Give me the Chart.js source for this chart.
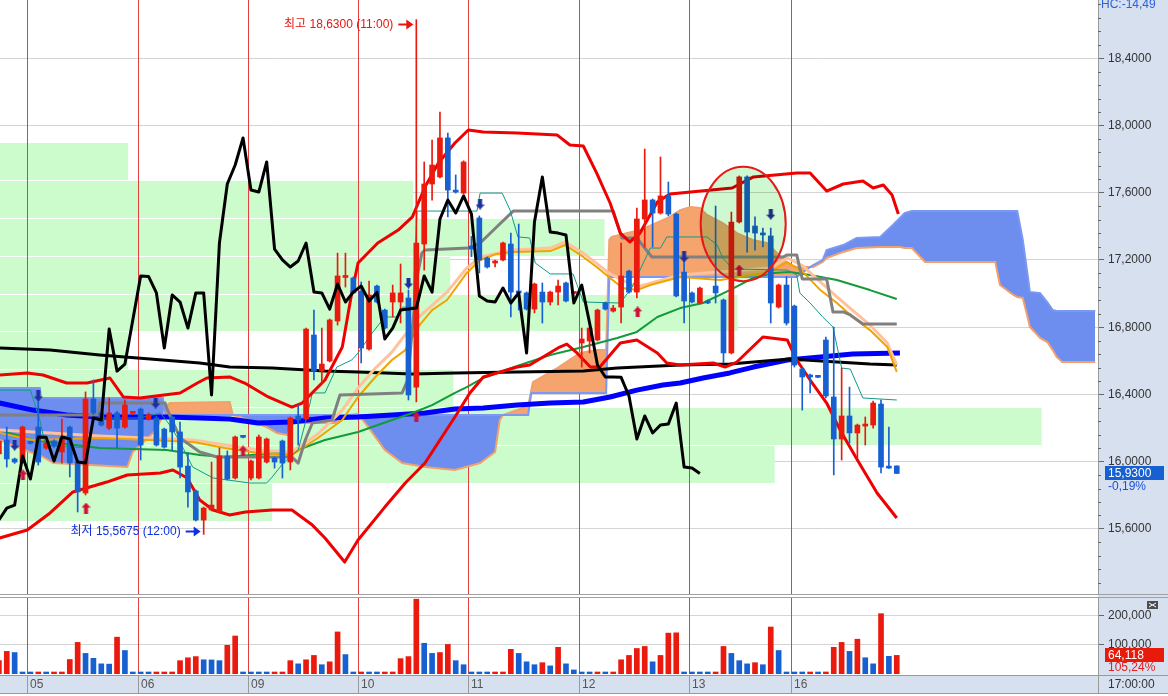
<!DOCTYPE html>
<html>
<head>
<meta charset="utf-8">
<script src="https://cdn.jsdelivr.net/npm/chart.js@4.4.1/dist/chart.umd.min.js"></script>
<style>
    html, body { margin: 0; padding: 0; background: #fff; overflow: hidden; }
    #wrap { position: relative; width: 1168px; height: 696px; }
    #price { position: absolute; left: 0; top: 0; }
    #vol { position: absolute; left: 0; top: 596px; }
</style>
</head>
<body>
<div id="wrap">
    <canvas id="price" width="1168" height="596"></canvas>
    <canvas id="vol" width="1168" height="100"></canvas>
</div>
<script>
// ── Chart data (x = bar index) ───────────────────────────────
const dayStart  = [4, 18, 32, 46, 60, 74, 88, 101];
const dayLabels = ['05', '06', '09', '10', '11', '12', '13', '16'];

const open = [
    16.046, 16.129, 16.016, 15.998, 16.113, 16.206, 16.081, 16.123, 16.058, 16.206,
    15.998, 15.814, 16.373, 16.290, 16.200, 16.290, 16.206, 16.288, 16.313, 16.254,
    16.260, 16.194, 16.266, 16.177, 15.974, 15.826, 15.653, 15.713, 15.701, 16.034,
    15.903, 16.149, 15.903, 15.903, 15.998, 16.022, 16.123, 15.998, 16.272, 16.254,
    16.754, 16.539, 16.599, 16.837, 17.096, 17.093, 17.015, 16.670, 17.045, 16.902,
    16.950, 16.950, 16.974, 16.444, 17.295, 17.652, 17.694, 17.926, 17.608, 17.598,
    17.283, 17.450, 17.212, 17.182, 17.200, 17.295, 17.015, 17.004, 16.908, 17.009,
    16.950, 17.009, 17.063, 17.001, 16.706, 16.718, 16.724, 16.944, 16.896, 16.920,
    17.134, 17.009, 17.444, 17.557, 17.479, 17.581, 17.473, 17.128, 17.004, 16.944,
    16.956, 17.045, 16.962, 16.647, 17.426, 17.694, 17.402, 17.360, 17.343, 16.920,
    17.051, 16.926, 16.551, 16.516, 16.506, 16.724, 16.385, 16.135, 16.272, 16.171,
    16.212, 16.218, 16.343, 15.966, 15.975
];
const high = [
    16.141, 16.206, 16.022, 16.212, 16.118, 16.367, 16.120, 16.130, 16.254, 16.212,
    16.004, 16.415, 16.486, 16.300, 16.379, 16.300, 16.367, 16.300, 16.320, 16.290,
    16.270, 16.200, 16.272, 16.236, 16.052, 15.832, 15.730, 15.998, 16.081, 16.064,
    16.153, 16.153, 16.010, 16.159, 16.141, 16.028, 16.129, 16.266, 16.337, 16.795,
    16.902, 16.795, 16.849, 17.241, 17.241, 17.099, 17.069, 17.075, 17.051, 16.908,
    17.051, 17.176, 17.021, 18.630, 17.783, 17.914, 18.080, 17.955, 17.706, 17.790,
    17.340, 17.462, 17.218, 17.200, 17.307, 17.360, 17.414, 17.010, 17.063, 17.063,
    17.015, 17.081, 17.069, 17.010, 16.795, 16.801, 16.908, 16.950, 16.930, 17.301,
    17.140, 17.509, 17.860, 17.563, 17.813, 17.664, 17.479, 17.241, 17.010, 17.039,
    16.962, 17.521, 16.968, 17.485, 17.700, 17.700, 17.456, 17.390, 17.390, 17.057,
    17.100, 16.932, 16.557, 16.522, 16.510, 16.742, 16.801, 16.557, 16.444, 16.224,
    16.266, 16.361, 16.367, 16.206, 15.975
];
const low = [
    16.022, 15.968, 15.990, 15.992, 16.105, 15.980, 16.075, 16.085, 15.992, 15.909,
    15.701, 15.802, 16.280, 16.212, 16.190, 16.081, 16.200, 16.280, 16.010, 16.248,
    16.093, 16.081, 16.069, 15.903, 15.730, 15.647, 15.5675, 15.707, 15.695, 15.891,
    15.897, 16.141, 15.891, 15.897, 15.992, 15.962, 15.903, 15.951, 16.099, 16.248,
    16.486, 16.468, 16.593, 16.813, 17.039, 16.998, 16.587, 16.664, 16.944, 16.789,
    16.861, 16.825, 16.367, 16.355, 17.140, 17.556, 17.688, 17.456, 17.598, 17.592,
    17.220, 17.123, 17.152, 17.158, 17.194, 16.861, 16.902, 16.902, 16.885, 16.825,
    16.932, 16.932, 16.950, 16.998, 16.563, 16.647, 16.718, 16.902, 16.890, 16.825,
    17.003, 16.974, 17.277, 17.277, 17.473, 17.462, 16.980, 16.825, 16.944, 16.938,
    16.940, 16.944, 16.587, 16.641, 17.420, 17.247, 17.259, 17.277, 16.825, 16.914,
    16.813, 16.563, 16.307, 16.409, 16.500, 16.379, 15.921, 16.010, 16.111, 16.022,
    16.099, 16.200, 15.933, 15.960, 15.930
];
const close = [
    16.123, 16.016, 15.998, 16.206, 16.109, 15.998, 16.111, 16.093, 16.141, 15.992,
    15.820, 16.373, 16.290, 16.218, 16.290, 16.200, 16.337, 16.292, 16.099, 16.278,
    16.099, 16.087, 16.177, 15.968, 15.820, 15.653, 15.724, 15.742, 16.034, 15.897,
    16.147, 16.145, 16.004, 16.147, 16.135, 15.998, 15.992, 16.260, 16.248, 16.789,
    16.539, 16.581, 16.843, 17.105, 17.102, 17.004, 16.676, 16.992, 16.950, 16.795,
    17.004, 17.004, 16.397, 17.301, 17.652, 17.765, 17.926, 17.616, 17.604, 17.783,
    17.265, 17.200, 17.158, 17.194, 17.301, 17.009, 17.004, 16.908, 17.057, 16.950,
    17.009, 17.045, 16.956, 17.007, 16.730, 16.795, 16.902, 16.908, 16.914, 17.105,
    17.009, 17.444, 17.557, 17.479, 17.581, 17.473, 16.986, 16.956, 16.950, 17.033,
    16.944, 17.004, 16.647, 17.426, 17.694, 17.366, 17.360, 17.349, 16.944, 17.051,
    16.825, 16.575, 16.504, 16.504, 16.502, 16.391, 16.135, 16.272, 16.171, 16.218,
    16.224, 16.349, 15.968, 15.962, 15.930
];
const volume = [
    46000, 78000, 74000, 3500,
    2000, 2400, 2000, 2200, 3500, 50000, 109000, 71000, 54000, 35000, 34000, 127000, 81000, 3500,
    2000, 1800, 2000, 2200, 2400, 46000, 56000, 60000, 49000, 48500, 46000, 99000, 131000, 3500,
    2000, 1800, 1600, 2000, 3500, 46000, 35000, 49000, 64000, 32000, 42000, 145000, 67000, 3500,
    3600, 3400, 2000, 2200, 7000, 53000, 60000, 258000, 106000, 71000, 74000, 102000, 46000, 32000,
    2000, 1800, 1600, 2000, 3500, 85000, 71000, 42000, 32000, 39000, 28000, 92000, 35000, 14000,
    2000, 1800, 2000, 1800, 3500, 49000, 64000, 88000, 95000, 42000, 64000, 141000, 142000, 3500,
    2000, 1800, 1600, 3500, 95000, 71000, 46000, 35000, 39000, 32000, 162000, 81000, 2000,
    1800, 1600, 2000, 1800, 7000, 92000, 109000, 78000, 120000, 56000, 35000, 208000, 60926, 64118
];

// indicator lines: [bar index, price]
const bbUpper = [[0.1,16.516],[3.6,16.528],[5.6,16.516],[8.6,16.468],[11.2,16.468],[14.1,16.498],[15.8,16.385],[17.9,16.379],[23.0,16.409],[25.2,16.468],[26.4,16.498],[29.3,16.504],[31.2,16.468],[34.2,16.385],[37.2,16.325],[38.5,16.349],[41.4,16.486],[43.6,16.682],[44.8,17.003],[45.6,17.182],[48.1,17.301],[50.7,17.378],[52.5,17.456],[54.1,17.634],[55.8,17.777],[57.9,17.896],[59.6,17.973],[61.5,17.961],[65.8,17.955],[70.9,17.943],[72.5,17.884],[74.2,17.878],[75.9,17.717],[77.6,17.539],[78.9,17.360],[80.1,17.307],[81.4,17.360],[83.6,17.545],[85.2,17.593],[93.1,17.628],[95.8,17.694],[101.3,17.717],[103.0,17.717],[105.1,17.610],[107.2,17.652],[109.7,17.670],[111.0,17.628],[112.3,17.646],[113.4,17.587],[114.2,17.473]];
const bbLower = [[0.1,15.546],[3.6,15.594],[6.5,15.695],[9.4,15.820],[13.7,15.879],[16.3,15.921],[20.5,15.933],[22.1,15.951],[23.9,15.903],[25.5,15.772],[27.2,15.713],[29.3,15.683],[31.3,15.701],[34.7,15.713],[37.2,15.713],[39.8,15.623],[41.4,15.546],[43.9,15.403],[45.6,15.534],[49.0,15.730],[51.6,15.873],[54.1,15.992],[57.9,16.266],[59.8,16.409],[61.5,16.504],[65.8,16.563],[67.4,16.575],[71.2,16.682],[72.1,16.700],[73.4,16.647],[75.1,16.563],[76.3,16.563],[77.6,16.635],[78.9,16.706],[81.0,16.724],[83.6,16.647],[84.8,16.587],[86.5,16.575],[90.7,16.587],[92.2,16.563],[93.7,16.593],[97.0,16.742],[100.1,16.724],[101.3,16.605],[103.0,16.486],[105.1,16.349],[106.8,16.189],[109.0,16.010],[111.5,15.814],[114.0,15.665]];
const blackMA = [[0.1,16.676],[6.5,16.664],[12.8,16.635],[19.2,16.611],[25.5,16.587],[29.3,16.563],[34.7,16.557],[41.4,16.539],[45.6,16.534],[52.5,16.522],[57.9,16.528],[65.8,16.534],[74.2,16.539],[78.5,16.557],[86.5,16.575],[92.8,16.581],[100.4,16.611],[106.4,16.593],[110.6,16.581],[114.0,16.575]];
const blueMA = [[0.1,16.349],[4.3,16.307],[8.6,16.278],[12.8,16.266],[21.3,16.266],[25.5,16.260],[29.3,16.254],[32.9,16.230],[37.2,16.236],[41.4,16.260],[45.6,16.266],[49.9,16.278],[54.1,16.290],[57.9,16.313],[61.5,16.319],[65.8,16.337],[70.0,16.349],[74.2,16.355],[77.6,16.385],[81.0,16.426],[84.3,16.456],[86.5,16.468],[89.4,16.498],[92.8,16.528],[95.8,16.563],[100.1,16.605],[104.3,16.623],[108.4,16.641],[114.4,16.647]];
const greenMA = [[0.1,16.189],[4.3,16.129],[12.8,16.081],[21.3,16.069],[25.5,16.040],[28.7,16.028],[37.2,16.058],[41.4,16.129],[45.6,16.177],[49.9,16.248],[52.5,16.290],[55.0,16.337],[57.9,16.409],[59.4,16.444],[61.5,16.498],[65.8,16.569],[70.0,16.635],[74.2,16.682],[78.5,16.736],[81.0,16.772],[83.6,16.861],[86.5,16.914],[89.4,16.944],[92.8,17.021],[95.8,17.093],[98.3,17.123],[100.4,17.128],[103.0,17.111],[106.4,17.081],[110.6,17.021],[114.0,16.968]];
const orangeMA = [[0.1,16.171],[4.3,16.129],[12.8,16.141],[19.2,16.129],[24.7,16.117],[28.7,16.081],[32.9,16.052],[37.2,16.040],[40.5,16.141],[43.6,16.248],[45.6,16.385],[47.8,16.504],[49.9,16.605],[51.6,16.664],[53.2,16.801],[55.0,16.902],[56.9,16.962],[59.4,17.123],[61.1,17.200],[63.2,17.236],[65.3,17.248],[70.0,17.253],[71.9,17.289],[74.2,17.218],[75.9,17.158],[77.6,17.093],[79.2,17.033],[81.0,17.021],[82.7,17.051],[86.5,17.099],[91.6,17.081],[97.9,17.128],[100.1,17.188],[102.1,17.128],[104.3,17.021],[106.4,16.944],[108.4,16.861],[110.6,16.783],[112.8,16.682],[114.0,16.534]];
const peachMA = [[0.1,16.189],[12.8,16.153],[24.7,16.129],[32.9,16.069],[37.2,16.058],[40.5,16.165],[43.6,16.307],[45.6,16.438],[47.8,16.557],[49.9,16.652],[53.2,16.855],[56.9,17.009],[59.4,17.152],[61.1,17.218],[65.3,17.259],[70.0,17.271],[71.9,17.307],[74.2,17.241],[77.6,17.117],[81.0,17.039],[86.5,17.111],[97.9,17.152],[100.1,17.212],[102.1,17.164],[106.4,16.980],[110.6,16.813],[112.8,16.706],[114.0,16.575]];
const kijun = [[0.1,16.278],[12.6,16.278],[12.8,16.349],[21.1,16.349],[21.3,16.319],[23.0,16.141],[25.5,16.058],[27.7,16.028],[37.2,16.028],[38.0,15.992],[38.9,16.129],[39.8,16.230],[42.3,16.248],[43.3,16.397],[51.2,16.409],[51.9,16.486],[53.1,17.099],[53.7,17.241],[54.1,17.259],[59.6,17.271],[61.1,17.301],[63.2,17.396],[65.3,17.491],[78.0,17.491],[79.1,17.331],[81.0,17.331],[82.9,17.218],[99.6,17.218],[100.1,17.230],[101.3,17.230],[102.0,17.087],[105.1,17.087],[105.9,16.891],[107.2,16.891],[108.1,16.873],[109.7,16.819],[114.0,16.819]];
const tenkan = [[0.1,16.426],[4.0,16.426],[5.2,16.248],[5.9,16.099],[11.3,16.081],[12.0,16.260],[17.9,16.260],[20.5,16.290],[21.7,16.218],[23.0,16.117],[24.6,15.968],[27.2,15.903],[31.9,15.873],[34.0,15.873],[34.7,15.909],[36.1,15.992],[38.0,16.069],[39.1,16.266],[39.8,16.409],[41.4,16.409],[42.9,16.563],[44.8,16.605],[45.6,16.647],[47.4,16.766],[49.0,16.861],[50.7,16.861],[51.3,16.920],[52.6,16.920],[52.8,17.182],[53.1,17.491],[60.7,17.491],[61.1,17.598],[63.9,17.598],[64.9,17.497],[65.9,17.337],[67.4,17.331],[68.1,17.182],[70.0,17.117],[72.9,17.117],[73.8,17.003],[74.2,16.950],[78.9,16.944],[80.4,17.039],[82.7,17.271],[84.0,17.271],[84.8,17.337],[89.9,17.337],[91.2,17.289],[91.9,17.212],[93.2,17.146],[100.1,17.140],[101.3,17.111],[101.7,17.003],[103.0,16.944],[104.6,16.861],[105.9,16.801],[107.0,16.557],[108.1,16.551],[109.7,16.379],[114.0,16.367]];

// ichimoku cloud (leading spans), shared x positions
const cloudX = [0.1, 2.7, 5.2, 5.35, 6.9, 16.3, 17.0, 19.6, 20.8, 21.2, 21.7, 29.3, 29.7, 30.6, 34.0, 35.3, 36.6, 37.3, 42.7, 44.3, 45.6, 46.9, 49.0, 51.2, 54.1, 57.9, 61.1, 63.0, 63.6, 64.0, 67.2, 67.6, 67.8, 70.9, 73.8, 75.9, 77.1, 77.5, 77.8, 81.4, 85.2, 86.5, 87.8, 89.0, 89.9, 91.9, 93.7, 95.7, 97.5, 98.8, 100.4, 101.3, 102.1, 103.0, 103.4, 104.6, 105.1, 107.2, 108.9, 111.9, 113.5, 114.4, 115.0, 115.9, 117.6, 126.5, 127.1, 128.8, 129.3, 130.0, 130.7, 130.9, 132.2, 133.1, 133.8, 134.3, 135.0, 139.2];
const spanA = [16.129, 16.081, 16.034, 16.034, 15.992, 15.968, 16.058, 16.171, 16.266, 16.331, 16.349, 16.355, 16.278, 16.266, 16.206, 16.171, 16.159, 16.230, 16.230, 16.278, 16.284, 16.206, 16.069, 15.992, 15.968, 15.951, 15.992, 16.058, 16.248, 16.278, 16.331, 16.426, 16.474, 16.557, 16.647, 16.664, 16.664, 17.319, 17.337, 17.378, 17.456, 17.497, 17.515, 17.509, 17.468, 17.420, 17.360, 17.319, 17.301, 17.241, 17.170, 17.158, 17.158, 17.158, 17.158, 17.188, 17.212, 17.248, 17.271, 17.277, 17.277, 17.277, 17.271, 17.271, 17.188, 17.188, 17.051, 16.992, 16.980, 16.974, 16.843, 16.801, 16.736, 16.712, 16.664, 16.623, 16.593, 16.593];
const spanB = [16.438, 16.438, 16.438, 16.379, 16.379, 16.379, 16.379, 16.379, 16.379,
    16.278, 16.278, 16.278, 16.278, 16.278, 16.278, 16.278, 16.278, 16.278, 16.278, 16.278,
    16.278, 16.278, 16.278, 16.278, 16.278, 16.278, 16.278, 16.278, 16.278, 16.278, 16.278,
    16.409, 16.409, 16.409, 16.409, 16.409, 16.409,
    17.099, 17.099, 17.099, 17.099, 17.099, 17.099, 17.099, 17.099, 17.099, 17.099, 17.099, 17.099, 17.099, 17.099, 17.099,
    17.128, 17.158, 17.170, 17.200, 17.259, 17.289, 17.331, 17.337, 17.408, 17.450, 17.479, 17.491, 17.491, 17.491, 17.491, 17.491, 17.491, 17.319, 17.081, 17.009, 17.003, 16.950, 16.902, 16.896, 16.896, 16.896];

// price-by-volume bands: edges (price) and right end (bar index)
const bandEdges = [15.647, 15.873, 16.098, 16.324, 16.549, 16.775, 17.0, 17.226, 17.451, 17.677, 17.902];
const bandEnd   = [34.7, 98.5, 132.4, 57.7, 16.4, 93.8, 57.3, 76.9, 52.6, 16.4];

// signals
const buyIdx    = [3.06, 11.06, 31.0, 53.0, 81.1, 94.0];
const buyPrice  = [15.921, 15.724, 16.064, 16.266, 16.891, 17.140];
const sellIdx   = [2.0, 5.0, 19.9, 52.0, 61.1, 87.0, 98.0];
const sellPrice = [16.099, 16.391, 16.349, 17.063, 17.533, 17.218, 17.473];

// high / low callouts
const extremeIdx   = [53, 26];
const extremePrice = [18.63, 15.5675];
const extremeText  = ['최고 18,6300 (11:00)', '최저 15,5675 (12:00)'];

// highlighted zone (ellipse): centre and half-sizes in data units
const zoneIdx = 94.5, zonePrice = 17.414, zoneHalfIdx = 5.4, zoneHalfPrice = 0.34;

const priceTicks = [15.6, 16.0, 16.4, 16.8, 17.2, 17.6, 18.0, 18.4];
const volTicks   = [100000, 200000];
const hcValue = -14.49;
const changePct = -0.19;
const volChangePct = 105.24;
const lastTime = '17:00:00';

// ── Theme / layout ───────────────────────────────────────────
const RED = '#ea1a0e';
const BLUE = '#1660d2';
const AXIS_BG = '#d6e0ef';
const GRID = '#d4d4d4';
const DAY_RED = '#e04040';
const FONT = '"Liberation Sans", "Noto Sans CJK KR", sans-serif';
const AXIS_W = 70;
const X_MIN = 0.14, X_MAX = 139.55;
const P_MIN = 15.213, P_MAX = 18.7466;
const V_MAX = 265500;

const pts = arr => arr.map(([x, y]) => ({ x, y }));
const fmt4 = v => v.toFixed(4).replace('.', ',');
const fmtComma = v => v.toFixed(2).replace('.', ',');
const candleColor = i => (close[i] >= open[i] ? RED : BLUE);
const volColor = i => (i > 0 && volume[i] <= volume[i - 1] ? BLUE : RED);

function makeArrow(color, up) {
    const c = document.createElement('canvas');
    c.width = 9; c.height = 11;
    const g = c.getContext('2d');
    g.fillStyle = color;
    g.beginPath();
    if (up) {
        g.moveTo(4.5, 0); g.lineTo(9, 5); g.lineTo(6.5, 5); g.lineTo(6.5, 11);
        g.lineTo(2.5, 11); g.lineTo(2.5, 5); g.lineTo(0, 5);
    } else {
        g.moveTo(4.5, 11); g.lineTo(9, 6); g.lineTo(6.5, 6); g.lineTo(6.5, 0);
        g.lineTo(2.5, 0); g.lineTo(2.5, 6); g.lineTo(0, 6);
    }
    g.closePath();
    g.fill();
    return c;
}

const lineDs = (label, data, color, width, order) => ({
    type: 'line', label, data: pts(data),
    borderColor: color, borderWidth: width,
    pointRadius: 0, tension: 0, fill: false, order,
    borderJoinStyle: 'round'
});

function drawDayLines(ctx, x, top, bottom, color) {
    ctx.strokeStyle = color;
    ctx.lineWidth = 1;
    dayStart.forEach(d => {
        const xp = Math.round(x.getPixelForValue(d - 0.38)) + 0.5;
        ctx.beginPath(); ctx.moveTo(xp, top); ctx.lineTo(xp, bottom); ctx.stroke();
    });
}

const axisFit = s => { s.width = AXIS_W; s.paddingTop = 0; s.paddingBottom = 0; };

// ── Price panel decorations ──────────────────────────────────
const priceDecor = {
    id: 'priceDecor',
    beforeDraw(chart) {
        const { ctx, chartArea: a, width, height } = chart;
        ctx.save();
        ctx.fillStyle = '#fff';
        ctx.fillRect(0, 0, width, height);
        ctx.fillStyle = AXIS_BG;
        ctx.fillRect(a.right, 0, width - a.right, height);
        ctx.restore();
    },
    beforeDatasetsDraw(chart) {
        const { ctx, chartArea: a, scales: { x, y } } = chart;
        ctx.save();
        ctx.beginPath(); ctx.rect(a.left, a.top, a.right - a.left, a.bottom - a.top); ctx.clip();
        ctx.fillStyle = '#ccfccc';
        bandEnd.forEach((end, k) => {
            const top = Math.round(y.getPixelForValue(bandEdges[k + 1])) + 1;
            const bot = Math.round(y.getPixelForValue(bandEdges[k]));
            ctx.fillRect(a.left, top, x.getPixelForValue(end) - a.left, bot - top);
        });
        drawDayLines(ctx, x, a.top, a.bottom, DAY_RED);
        ctx.restore();
    },
    afterDatasetsDraw(chart) {
        const { ctx, chartArea: a, scales: { x, y } } = chart;
        ctx.save();
        ctx.beginPath(); ctx.rect(a.left, a.top, a.right - a.left, a.bottom - a.top); ctx.clip();

        // highlighted zone
        const cx = x.getPixelForValue(zoneIdx), cy = y.getPixelForValue(zonePrice);
        const rx = x.getPixelForValue(zoneIdx + zoneHalfIdx) - cx;
        const ry = y.getPixelForValue(zonePrice - zoneHalfPrice) - cy;
        ctx.beginPath();
        ctx.ellipse(cx, cy, rx, ry, 0, 0, Math.PI * 2);
        ctx.globalCompositeOperation = 'multiply';
        ctx.fillStyle = '#d0f8d0';
        ctx.fill();
        ctx.globalCompositeOperation = 'source-over';
        ctx.strokeStyle = '#e81818';
        ctx.lineWidth = 2;
        ctx.stroke();

        // high / low callouts
        ctx.font = `12px ${FONT}`;
        ctx.textBaseline = 'middle';
        ctx.textAlign = 'right';
        extremeIdx.forEach((idx, k) => {
            const isHigh = k === 0;
            const color = isHigh ? '#e8160e' : '#1030e0';
            const tip = x.getPixelForValue(idx) - 3;
            const yp = Math.round(y.getPixelForValue(extremePrice[k]) + (isHigh ? 4 : -3.5)) + 0.5;
            ctx.fillStyle = color;
            ctx.strokeStyle = color;
            ctx.fillText(extremeText[k], tip - 20, yp);
            ctx.lineWidth = 2;
            ctx.beginPath(); ctx.moveTo(tip - 15, yp); ctx.lineTo(tip - 5, yp); ctx.stroke();
            ctx.beginPath(); ctx.moveTo(tip, yp); ctx.lineTo(tip - 7, yp - 5); ctx.lineTo(tip - 7, yp + 5);
            ctx.closePath(); ctx.fill();
        });
        ctx.restore();
    },
    afterDraw(chart) {
        const { ctx, chartArea: a, width, scales: { y } } = chart;
        ctx.save();
        // minor ticks
        ctx.strokeStyle = '#666';
        ctx.lineWidth = 1;
        for (let k = 0; k < 45; k++) {
            if (k % 5 === 0) continue;
            const v = 15.2 + k * 0.08;
            if (v > P_MAX) break;
            const yp = Math.round(y.getPixelForValue(v)) + 0.5;
            ctx.beginPath(); ctx.moveTo(a.right, yp); ctx.lineTo(a.right + 3, yp); ctx.stroke();
        }
        // panel bottom border
        ctx.strokeStyle = '#a0a0a0';
        ctx.beginPath(); ctx.moveTo(0, a.bottom + 0.5); ctx.lineTo(width, a.bottom + 0.5); ctx.stroke();

        ctx.font = `12px ${FONT}`;
        ctx.textBaseline = 'middle';
        ctx.textAlign = 'left';
        ctx.fillStyle = '#2a62d8';
        ctx.fillText('HC:' + fmtComma(hcValue), a.right + 3, 5);

        // last price box
        const last = close[close.length - 1];
        const yp = y.getPixelForValue(last);
        ctx.fillStyle = BLUE;
        ctx.fillRect(a.right + 7, Math.round(yp) - 7, 59, 14);
        ctx.fillStyle = '#fff';
        ctx.fillText(fmt4(last), a.right + 10, yp);
        ctx.fillStyle = '#1a50d8';
        ctx.fillText(fmtComma(changePct) + '%', a.right + 10, yp + 13);
        ctx.restore();
    }
};

// ── Volume panel decorations ─────────────────────────────────
const volDecor = {
    id: 'volDecor',
    beforeDraw(chart) {
        const { ctx, chartArea: a, width, height } = chart;
        ctx.save();
        ctx.fillStyle = '#fff';
        ctx.fillRect(0, 0, width, height);
        ctx.fillStyle = AXIS_BG;
        ctx.fillRect(a.right, 0, width - a.right, a.bottom + 1);
        ctx.restore();
    },
    beforeDatasetsDraw(chart) {
        const { ctx, chartArea: a, scales: { x } } = chart;
        ctx.save();
        drawDayLines(ctx, x, a.top, a.bottom, DAY_RED);
        ctx.restore();
    },
    afterDraw(chart) {
        const { ctx, chartArea: a, width, scales: { x, y } } = chart;
        ctx.save();
        ctx.lineWidth = 1;
        ctx.strokeStyle = '#a0a0a0';
        ctx.beginPath(); ctx.moveTo(0, a.top + 0.5); ctx.lineTo(width, a.top + 0.5); ctx.stroke();

        // time strip
        const sTop = a.bottom + 1, sBot = a.bottom + 19;
        ctx.fillStyle = AXIS_BG;
        ctx.fillRect(0, sTop, width, sBot - sTop);
        ctx.strokeStyle = '#9a9a9a';
        ctx.beginPath();
        ctx.moveTo(0, sTop + 0.5); ctx.lineTo(width, sTop + 0.5);
        ctx.moveTo(0, sBot + 0.5); ctx.lineTo(width, sBot + 0.5);
        ctx.moveTo(a.right + 0.5, sTop); ctx.lineTo(a.right + 0.5, sBot);
        ctx.stroke();
        drawDayLines(ctx, x, sTop, sBot, '#9a9a9a');

        ctx.font = `12px ${FONT}`;
        ctx.textBaseline = 'middle';
        ctx.textAlign = 'left';
        ctx.fillStyle = '#555';
        dayStart.forEach((d, k) => {
            const xp = Math.round(x.getPixelForValue(d - 0.38));
            ctx.fillText(dayLabels[k], xp + 3, (sTop + sBot) / 2 + 1);
        });
        ctx.fillStyle = '#333';
        ctx.fillText(lastTime, a.right + 10, (sTop + sBot) / 2 + 1);

        // last volume box
        const lastVol = volume[volume.length - 1];
        const yp = y.getPixelForValue(lastVol);
        ctx.fillStyle = '#e81a0a';
        ctx.fillRect(a.right + 7, Math.round(yp) - 7, 59, 14);
        ctx.fillStyle = '#fff';
        ctx.fillText(lastVol.toLocaleString('en-US'), a.right + 10, yp);
        ctx.fillStyle = '#e02020';
        ctx.fillText(fmtComma(volChangePct) + '%', a.right + 10, yp + 12);

        // small panel button
        ctx.fillStyle = '#4e4e4e';
        ctx.fillRect(width - 21, a.top + 4, 11, 8);
        ctx.strokeStyle = '#fff';
        ctx.beginPath();
        ctx.moveTo(width - 19, a.top + 6); ctx.lineTo(width - 15.5, a.top + 8); ctx.lineTo(width - 12, a.top + 6);
        ctx.moveTo(width - 19, a.top + 10); ctx.lineTo(width - 15.5, a.top + 8); ctx.lineTo(width - 12, a.top + 10);
        ctx.stroke();
        ctx.restore();
    }
};

// ── Price chart ──────────────────────────────────────────────
const upArrow = makeArrow('#d0103a', true);
const downArrow = makeArrow('#1c2f9c', false);

new Chart(document.getElementById('price').getContext('2d'), {
    type: 'bar',
    data: {
        datasets: [
            {
                type: 'line', label: 'Senkou A',
                data: cloudX.map((x, k) => ({ x, y: spanA[k] })),
                borderColor: '#f2a06c', borderWidth: 2, pointRadius: 0, tension: 0,
                fill: { target: '+1', above: '#f5a46e', below: '#6d8def' },
                order: 13
            },
            {
                type: 'line', label: 'Senkou B',
                data: cloudX.map((x, k) => ({ x, y: spanB[k] })),
                borderColor: '#7b98f2', borderWidth: 2, pointRadius: 0, tension: 0,
                fill: false, order: 12
            },
            lineDs('MA blue', blueMA, '#0000ff', 5, 11),
            lineDs('MA black', blackMA, '#000000', 3, 10),
            lineDs('MA green', greenMA, '#139a3a', 2, 9),
            lineDs('MA peach', peachMA, '#ffc29c', 3, 8),
            lineDs('MA orange', orangeMA, '#f0a400', 2, 7),
            lineDs('Kijun', kijun, '#808080', 3, 6),
            lineDs('Tenkan', tenkan, '#129a88', 1, 5),
            lineDs('BB upper', bbUpper, '#f00000', 3, 4),
            lineDs('BB lower', bbLower, '#f00000', 3, 4),
            {
                type: 'bar', label: 'Wick',
                data: low.map((l, i) => ({ x: i, y: [l, high[i]] })),
                backgroundColor: ctx => candleColor(ctx.dataIndex),
                barThickness: 1, grouped: false, order: 3
            },
            {
                type: 'bar', label: 'Body',
                data: open.map((o, i) => ({ x: i, y: [o, close[i]] })),
                backgroundColor: ctx => candleColor(ctx.dataIndex),
                barThickness: 5, minBarLength: 2, grouped: false, order: 2
            },
            {
                type: 'line', label: 'Chikou',
                data: close.slice(25).map((c, k) => ({ x: k, y: c })),
                borderColor: '#000', borderWidth: 3, pointRadius: 0, tension: 0,
                fill: false, order: 1, borderJoinStyle: 'round'
            },
            {
                type: 'line', label: 'Buy', showLine: false,
                data: buyIdx.map((x, k) => ({ x, y: buyPrice[k] })),
                pointStyle: upArrow, order: 0
            },
            {
                type: 'line', label: 'Sell', showLine: false,
                data: sellIdx.map((x, k) => ({ x, y: sellPrice[k] })),
                pointStyle: downArrow, order: 0
            }
        ]
    },
    options: {
        responsive: false,
        animation: false,
        events: [],
        layout: { autoPadding: false, padding: { left: 0, right: 0, top: 0, bottom: 2 } },
        plugins: { legend: { display: false }, tooltip: { enabled: false } },
        scales: {
            x: { type: 'linear', min: X_MIN, max: X_MAX, display: false, offset: false },
            y: {
                position: 'right', min: P_MIN, max: P_MAX,
                afterBuildTicks: s => { s.ticks = priceTicks.map(v => ({ value: v })); },
                afterFit: axisFit,
                ticks: { callback: v => fmt4(v), color: '#333', font: { family: FONT, size: 12 }, padding: 4 },
                grid: { color: GRID, tickColor: '#666', tickLength: 6 },
                border: { color: '#9a9a9a' }
            }
        }
    },
    plugins: [priceDecor]
});

// ── Volume chart ─────────────────────────────────────────────
new Chart(document.getElementById('vol').getContext('2d'), {
    type: 'bar',
    data: {
        datasets: [{
            label: 'Volume',
            data: volume.map((v, i) => ({ x: i, y: v })),
            backgroundColor: ctx => volColor(ctx.dataIndex),
            barThickness: 5, minBarLength: 2, grouped: false
        }]
    },
    options: {
        responsive: false,
        animation: false,
        events: [],
        layout: { autoPadding: false, padding: { left: 0, right: 0, top: 1, bottom: 22 } },
        plugins: { legend: { display: false }, tooltip: { enabled: false } },
        scales: {
            x: { type: 'linear', min: X_MIN, max: X_MAX, display: false, offset: false },
            y: {
                position: 'right', min: 0, max: V_MAX,
                afterBuildTicks: s => { s.ticks = volTicks.map(v => ({ value: v })); },
                afterFit: axisFit,
                ticks: { callback: v => v.toLocaleString('en-US'), color: '#333', font: { family: FONT, size: 12 }, padding: 4 },
                grid: { color: GRID, tickColor: '#666', tickLength: 6 },
                border: { color: '#9a9a9a' }
            }
        }
    },
    plugins: [volDecor]
});
</script>
</body>
</html>
